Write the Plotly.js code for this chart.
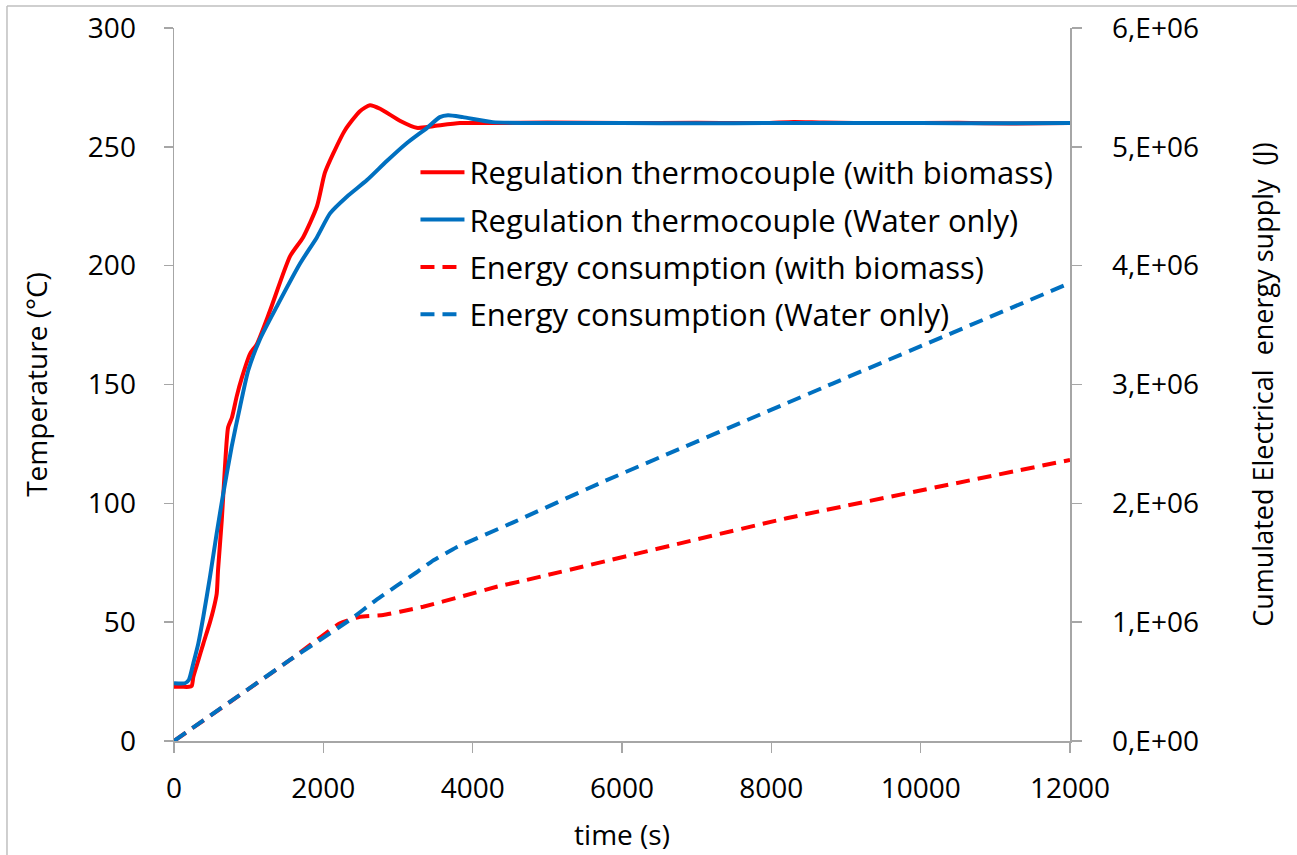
<!DOCTYPE html>
<html>
<head>
<meta charset="utf-8">
<script src="https://cdn.plot.ly/plotly-3.0.1.min.js"></script>
<style>
  html, body { margin: 0; padding: 0; background: #ffffff; }
  #chart { width: 1297px; height: 855px; }
</style>
</head>
<body>
<div id="chart"></div>
<script>
// Regulation thermocouple temperature, run with biomass (s, °C)
const timeBiomass = [0, 100, 200, 237, 259, 326, 393, 482, 525, 572, 590, 640, 680, 725, 775, 840, 910, 1020, 1110, 1285, 1555, 1730, 1915, 2020, 2130, 2290, 2490, 2625, 2760, 3025, 3250, 3470, 3830, 4300, 5000, 6000, 7000, 7900, 8300, 8700, 9500, 10500, 11200, 12000];
const tempBiomass = [22.8, 22.8, 22.8, 23.2, 27, 34, 41, 50, 55, 62, 72, 93, 114, 132, 136, 145, 153, 163, 167, 181, 204, 212, 225, 239, 247, 257, 265, 267.5, 266, 261, 258, 258.7, 260, 260, 260.2, 260, 260.1, 260, 260.5, 260.2, 260, 260.1, 259.8, 260];

// Regulation thermocouple temperature, water only (s, °C)
const timeWater = [0, 147, 200, 259, 326, 393, 482, 572, 660, 772, 884, 995, 1150, 1380, 1690, 1915, 2090, 2315, 2585, 2850, 3120, 3390, 3560, 3670, 3870, 4270, 5000, 6000, 7000, 8000, 9000, 10000, 11000, 12000];
const tempWater = [24.3, 24.3, 25.8, 32.7, 41.1, 52.3, 69.1, 87.4, 104.2, 123.8, 140.6, 156, 169, 183, 201, 212, 222, 229, 236, 244, 251.6, 258, 262.5, 263.3, 262.5, 260.4, 260, 260, 259.9, 260, 260, 260, 259.9, 260];

// Cumulated electrical energy supply, run with biomass (s, J)
const timeEnergyBiomass = [0, 1553, 2223, 2491, 2803, 3026, 3338, 3874, 4321, 4723, 8204, 12000];
const energyBiomass = [0, 0.682e6, 0.99e6, 1.046e6, 1.06e6, 1.088e6, 1.13e6, 1.22e6, 1.298e6, 1.355e6, 1.874e6, 2.365e6];

// Cumulated electrical energy supply, water only (s, J)
const timeEnergyWater = [0, 1553, 2357, 2714, 3250, 3450, 3785, 4544, 5705, 8829, 12000];
const energyWater = [0, 0.682e6, 1.02e6, 1.19e6, 1.42e6, 1.51e6, 1.63e6, 1.84e6, 2.17e6, 3.01e6, 3.854e6];

// Right-hand axis ticks
const energyTickVals = [0, 1e6, 2e6, 3e6, 4e6, 5e6, 6e6];
const energyTickText = ['0,E+00', '1,E+06', '2,E+06', '3,E+06', '4,E+06', '5,E+06', '6,E+06'];

const RED = '#ff0000';
const BLUE = '#0070c0';
const AXIS = '#a6a6a6';
const FONT = 'Open Sans, Noto Sans, sans-serif';

const traces = [
  { x: timeBiomass, y: tempBiomass, type: 'scatter', mode: 'lines',
    name: 'Regulation thermocouple (with biomass)', legendgroup: 'a',
    line: { color: RED, width: 4, shape: 'spline', smoothing: 0.6 } },
  { x: timeWater, y: tempWater, type: 'scatter', mode: 'lines',
    name: 'Regulation thermocouple (Water only)', legendgroup: 'b',
    line: { color: BLUE, width: 4, shape: 'spline', smoothing: 0.6 } },
  { x: timeEnergyBiomass, y: energyBiomass, type: 'scatter', mode: 'lines', yaxis: 'y2',
    name: 'Energy consumption (with biomass)', legendgroup: 'c',
    line: { color: RED, width: 4, dash: '14px,8px', shape: 'spline', smoothing: 0.4 } },
  { x: timeEnergyWater, y: energyWater, type: 'scatter', mode: 'lines', yaxis: 'y2',
    name: 'Energy consumption (Water only)', legendgroup: 'd',
    line: { color: BLUE, width: 4, dash: '14px,8px', shape: 'spline', smoothing: 0.4 } }
];

const layout = {
  width: 1297, height: 855,
  margin: { l: 174, r: 227, t: 28, b: 114 },
  paper_bgcolor: '#ffffff', plot_bgcolor: '#ffffff',
  font: { family: FONT, size: 28, color: '#000000' },
  showlegend: true,
  legend: {
    x: 0.2695, y: 0.835, xanchor: 'left', yanchor: 'top',
    bgcolor: 'rgba(0,0,0,0)', borderwidth: 0,
    font: { family: FONT, size: 31, color: '#000000' },
    traceorder: 'grouped', tracegroupgap: 4, itemwidth: 44
  },
  xaxis: {
    range: [0, 12000], tickmode: 'linear', tick0: 0, dtick: 2000, tickformat: 'd',
    showgrid: false, zeroline: false, showline: true, linecolor: AXIS, linewidth: 1.5,
    ticks: 'outside', ticklen: 10, tickcolor: AXIS, tickwidth: 1.5,
    ticklabelstandoff: 12,
    title: { text: 'time (s)', font: { family: FONT, size: 28 }, standoff: 20 },
    automargin: false
  },
  yaxis: {
    range: [0, 300], tickmode: 'linear', tick0: 0, dtick: 50,
    showgrid: false, zeroline: false, showline: true, linecolor: AXIS, linewidth: 1.5,
    ticks: 'outside', ticklen: 9, tickcolor: AXIS, tickwidth: 1.5,
    ticklabelstandoff: 22,
    title: { text: 'Temperature (°C)', font: { family: FONT, size: 28 }, standoff: 32 },
    automargin: false
  },
  yaxis2: {
    overlaying: 'y', side: 'right', range: [0, 6e6],
    tickmode: 'array', tickvals: energyTickVals, ticktext: energyTickText,
    showgrid: false, zeroline: false, showline: true, linecolor: AXIS, linewidth: 1.5,
    ticks: 'outside', ticklen: 10, tickcolor: AXIS, tickwidth: 1.5,
    ticklabelstandoff: 25,
    title: { text: 'Cumulated Electrical  energy supply  (J)', font: { family: FONT, size: 27 }, standoff: 56 },
    automargin: false
  },
  shapes: [
    // chart-area frame (left and top edges visible inside the canvas)
    { type: 'line', xref: 'paper', yref: 'paper', x0: -0.1864, x1: -0.1864, y0: 1.0309, y1: -0.2,
      line: { color: '#bfbfbf', width: 1.5 } },
    { type: 'line', xref: 'paper', yref: 'paper', x0: -0.1864, x1: 1.26, y0: 1.0309, y1: 1.0309,
      line: { color: '#bfbfbf', width: 1.5 } }
  ]
};

Plotly.newPlot('chart', traces, layout, { displayModeBar: false, staticPlot: true });
</script>
</body>
</html>
